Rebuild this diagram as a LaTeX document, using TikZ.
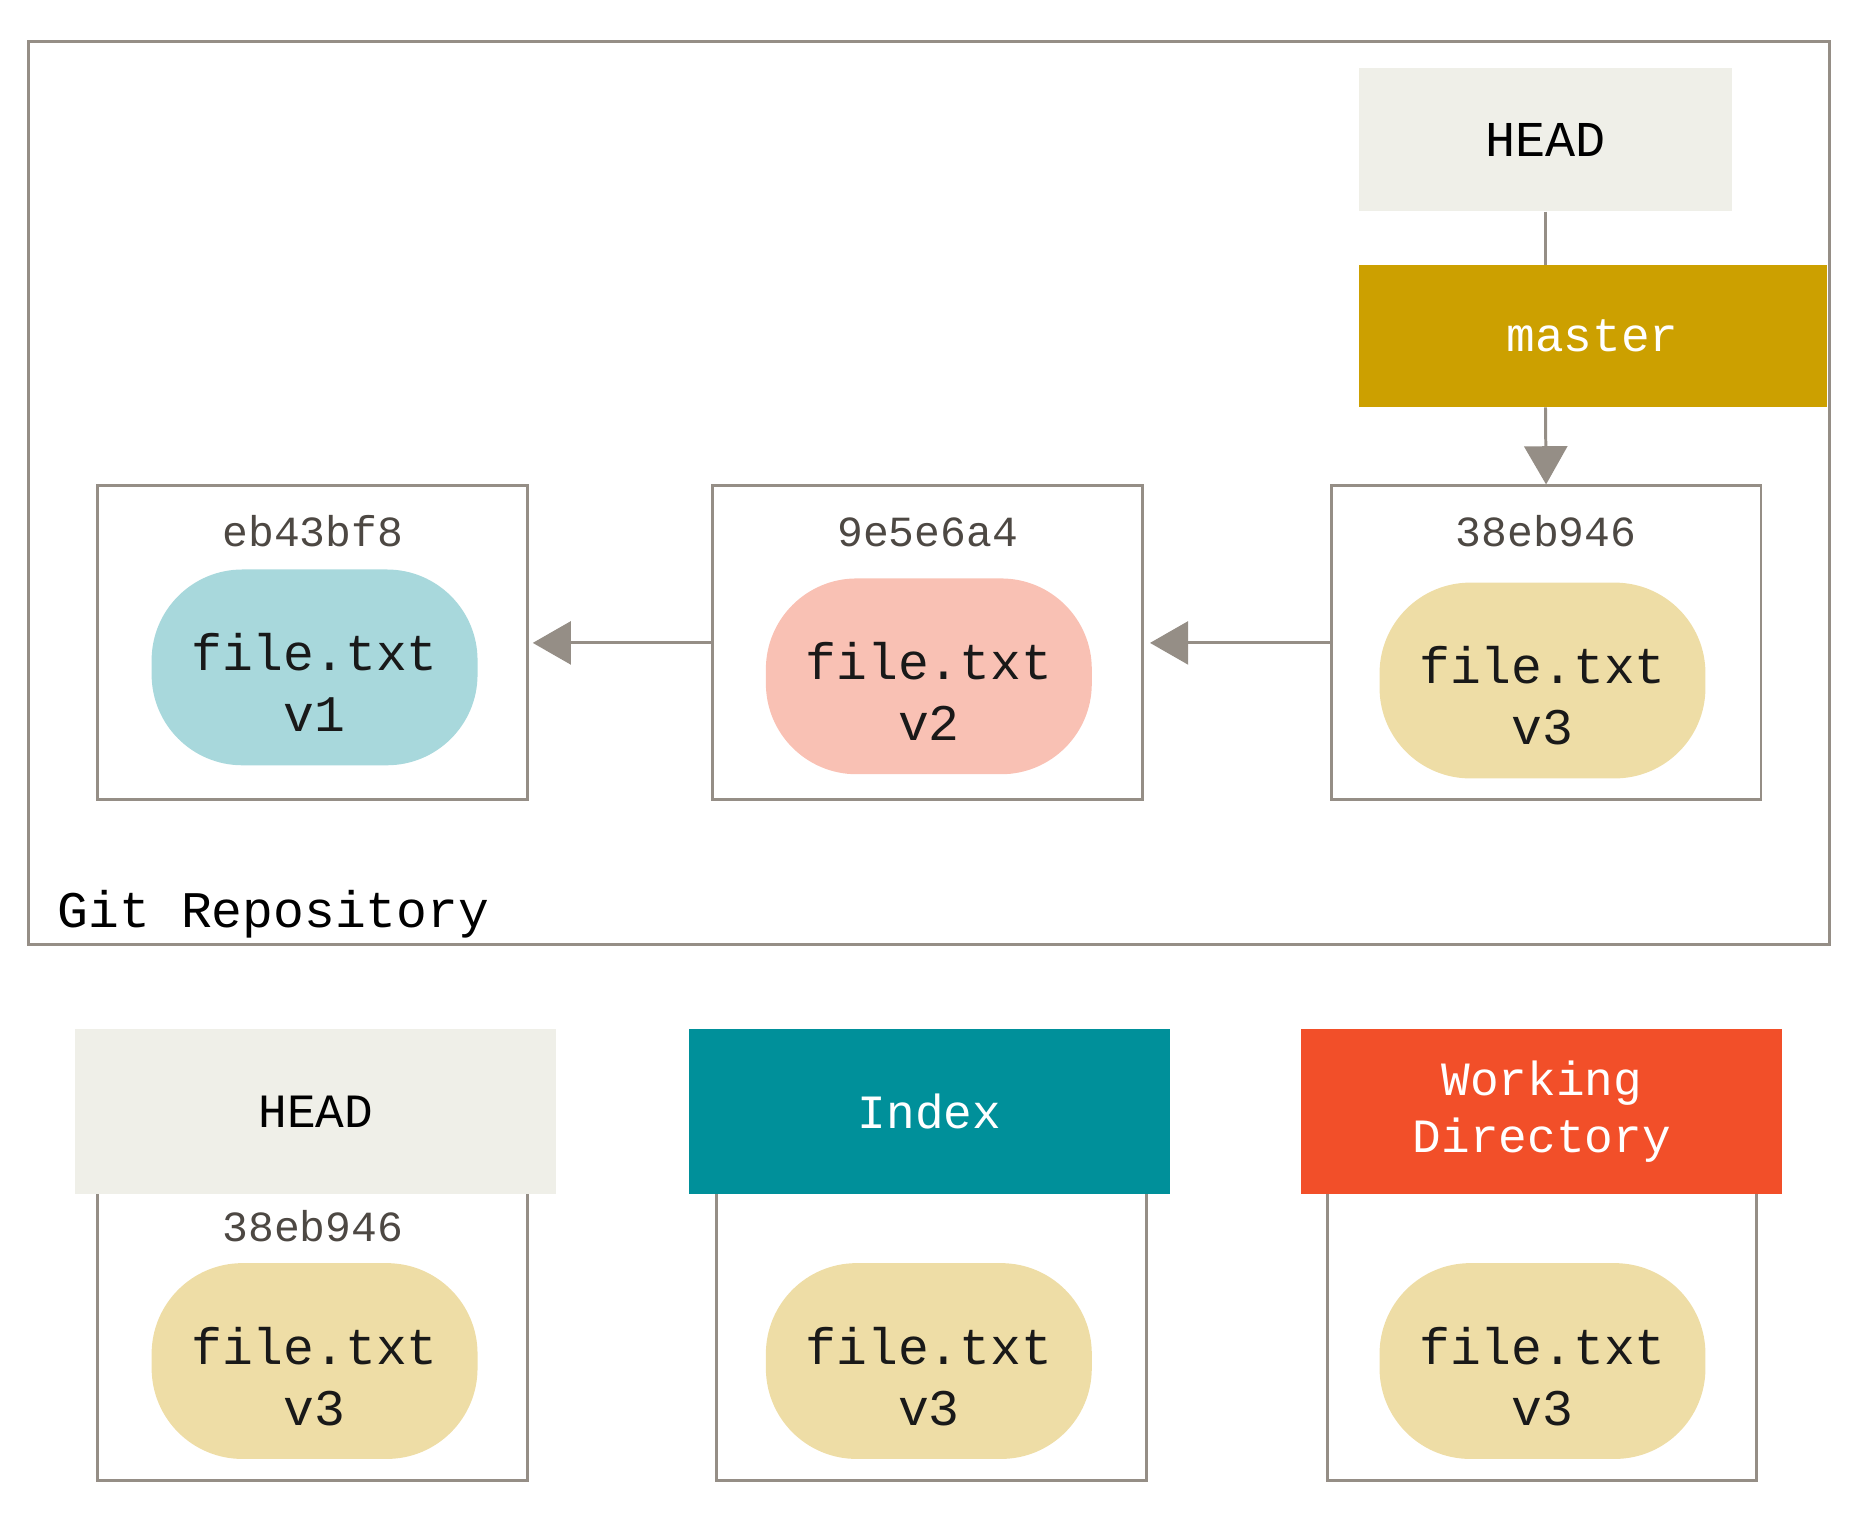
\documentclass[tikz,border=0pt]{standalone}
\usepackage{fontspec}
\usetikzlibrary{arrows.meta}
\newfontfamily\gitmono{Liberation Mono}
\definecolor{gitgray}{HTML}{958E86}
\definecolor{headbg}{HTML}{EFEFE8}
\definecolor{mastergold}{HTML}{CCA000}
\definecolor{indexteal}{HTML}{00909A}
\definecolor{wdred}{HTML}{F24F29}
\definecolor{blobone}{HTML}{A8D8DC}
\definecolor{blobtwo}{HTML}{F9C1B4}
\definecolor{blobthree}{HTML}{EEDDA6}
\definecolor{hashtext}{HTML}{4D4843}
\newcommand\blobtext[1]{\rule{0pt}{57pt}file.txt\\#1}
\tikzset{
  commit/.style={draw=gitgray,line width=2.5pt,minimum width=360pt,minimum height=263pt,inner sep=0pt},
  area/.style={draw=gitgray,line width=2.5pt,minimum width=360pt,minimum height=250pt,inner sep=0pt},
  blob/.style={rounded corners=76pt,minimum width=273pt,minimum height=164pt,inner sep=0pt,align=center,text=black!90,font=\gitmono\fontsize{43}{51}\selectfont},
  hash/.style={anchor=base,text=hashtext,font=\gitmono\fontsize{36}{40}\selectfont},
  tag/.style={minimum width=403pt,minimum height=138pt,inner sep=0pt,align=center,font=\gitmono\fontsize{40}{48}\selectfont},
  link/.style={draw=gitgray,line width=2.5pt},
  tip/.style={-{Triangle[length=32pt,width=36pt]}}
}
\begin{document}
\begin{tikzpicture}[x=1pt,y=-1pt]
    \useasboundingbox (0,0) rectangle (1568,1277);

    \node[draw=gitgray,line width=2.5pt,minimum width=1508pt,minimum height=756pt] (repo) at (778,413) {};
    \node[anchor=base west,font=\gitmono\fontsize{43}{50}\selectfont] (repolabel) at (45,777) {Git Repository};

    \node[fill=headbg,minimum width=313pt,minimum height=120pt,font=\gitmono\fontsize{42}{48}\selectfont] (head) at (1294.5,117) {HEAD};
    \node[fill=mastergold,text=white,minimum width=392pt,minimum height=119pt,font=\gitmono\fontsize{40}{48}\selectfont] (master) at (1334,281.5) {master};

    \node[commit] (c1) at (262,538.5) {};
    \node[commit] (c2) at (777,538.5) {};
    \node[commit] (c3) at (1295,538.5) {};

    \node[hash] (h1) at (262,458) {eb43bf8};
    \node[hash] (h2) at (777,458) {9e5e6a4};
    \node[hash] (h3) at (1295,458) {38eb946};

    \node[blob,fill=blobone] (f1) at (263.5,559) {\blobtext{v1}};
    \node[blob,fill=blobtwo] (f2) at (778,566.5) {\blobtext{v2}};
    \node[blob,fill=blobthree] (f3) at (1292,570) {\blobtext{v3}};

    \path[link] (head.south) -- (head.south |- master.north);
    \path[link,tip] (head.south |- master.south) -- (c3.north);
    \path[link,tip,shorten >=3pt] (c2.west) -- (c1.east);
    \path[link,tip,shorten >=5pt] (c3.west) -- (c2.east);

    \node[area] (a1) at (262,1115) {};
    \node[area] (a2) at (780,1115) {};
    \node[area] (a3) at (1291.5,1115) {};

    \node[tag,fill=headbg] (bhead) at (264.5,931) {HEAD};
    \node[tag,fill=indexteal,text=white] (bindex) at (778.5,931) {Index};
    \node[tag,fill=wdred,text=white] (bwd) at (1291.5,931) {Working\\Directory};

    \node[hash] (h4) at (262,1040) {38eb946};

    \node[blob,fill=blobthree] (f4) at (263.5,1140) {\blobtext{v3}};
    \node[blob,fill=blobthree] (f5) at (778,1140) {\blobtext{v3}};
    \node[blob,fill=blobthree] (f6) at (1292,1140) {\blobtext{v3}};
\end{tikzpicture}
\end{document}
